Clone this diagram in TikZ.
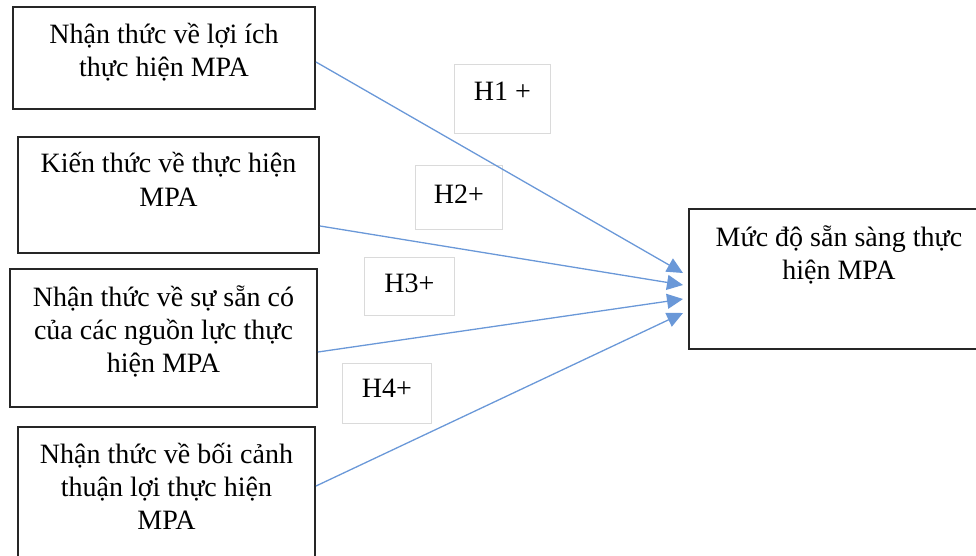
\documentclass[tikz,border=0pt]{standalone}
\usepackage{fontspec}
\setmainfont{Liberation Serif}
\usetikzlibrary{arrows.meta,positioning}
\definecolor{linkblue}{RGB}{106,152,216}
\definecolor{framegray}{RGB}{38,38,38}
\definecolor{hypgray}{RGB}{218,218,218}
% text block pinned to the top of a box: width, height, first baseline, lines
\newcommand{\boxlines}[4]{\parbox[t][#2][t]{#1}{\centering\rule{0pt}{#3}#4}}
\tikzset{
  factor/.style={draw=framegray,line width=2pt,inner sep=0pt,anchor=north west,font=\fontsize{28}{33}\selectfont},
  hyp/.style={draw=hypgray,line width=0.8pt,inner sep=0pt,anchor=north west,font=\fontsize{28}{32}\selectfont},
  link/.style={draw=linkblue,line width=1.3pt,-{Triangle[length=16pt,width=15pt]}}
}

\begin{document}
\begin{tikzpicture}[x=1pt,y=-1pt]
\useasboundingbox (0,0) rectangle (976,556);
% factors
\node[factor] (ben) at (12,6) {\boxlines{302pt}{102pt}{37pt}{Nhận thức về lợi ích\\thực hiện MPA}};
\node[factor] (know) at (17,136) {\boxlines{301pt}{116pt}{36pt}{Kiến thức về thực hiện\\MPA}};
\node[factor] (res) at (9,268) {\boxlines{307pt}{138pt}{37pt}{Nhận thức về sự sẵn có\\của các nguồn lực thực\\hiện MPA}};
\node[factor] (ctx) at (17,426) {\boxlines{297pt}{140pt}{36pt}{Nhận thức về bối cảnh\\thuận lợi thực hiện\\MPA}};
\node[factor] (rdy) at (688,208) {\boxlines{300pt}{140pt}{37pt}{Mức độ sẵn sàng thực\\hiện MPA}};
% hypotheses
\node[hyp] (h1) at (454,64) {\boxlines{96pt}{69pt}{36pt}{H1 +}};
\node[hyp] (h2) at (415,165) {\boxlines{87pt}{64pt}{38pt}{H2+}};
\node[hyp] (h3) at (364,257) {\boxlines{90pt}{58pt}{35pt}{H3+}};
\node[hyp] (h4) at (342,363) {\boxlines{89pt}{60pt}{34pt}{H4+}};
% links
\draw[link] ([yshift=-4pt]ben.east) -- ([xshift=-5pt,yshift=6pt]rdy.west);
\draw[link] ([yshift=-31pt]know.east) -- ([xshift=-5pt,yshift=-6pt]rdy.west);
\draw[link] ([yshift=-14pt]res.east) -- ([xshift=-5pt,yshift=-20pt]rdy.west);
\draw[link] ([yshift=11pt]ctx.east) -- ([xshift=-5pt,yshift=-34pt]rdy.west);
\end{tikzpicture}
\end{document}
